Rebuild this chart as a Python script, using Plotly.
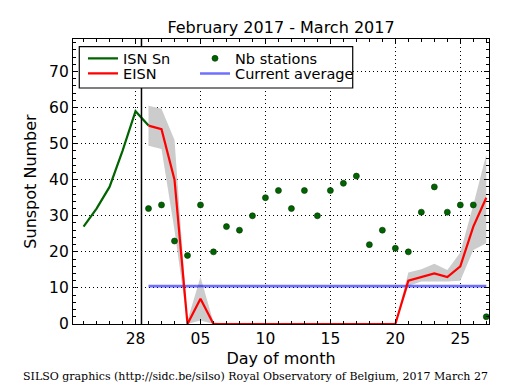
import plotly.graph_objects as go
import pandas as pd

# ---------------- data ----------------
isn_dates = pd.date_range("2017-02-24", "2017-03-01", freq="D")
isn_values = [27, 32, 38, 48, 59, 55]

eisn_dates = pd.date_range("2017-03-01", "2017-03-27", freq="D")
eisn_values = [55, 54, 40, 0, 7, 0,
               0, 0, 0, 0, 0, 0, 0, 0, 0, 0, 0, 0, 0, 0,
               12, 13, 14, 13, 16, 27, 35]
eisn_upper = [60.5, 59.7, 51, 1, 13, 0.5,
              0, 0, 0, 0, 0, 0, 0, 0, 0, 0, 0, 0, 0, 0,
              14.3, 15.2, 16.7, 15, 19.8, 33, 47]
eisn_lower = [49.4, 48.5, 26, 0, 1, 0,
              0, 0, 0, 0, 0, 0, 0, 0, 0, 0, 0, 0, 0, 0,
              10.5, 11.8, 11.8, 11.8, 12, 20.5, 22.4]
nb_stations = [32, 33, 23, 19, 33, 20,
               27, 26, 30, 35, 37, 32, 37, 30, 37, 39, 41,
               22, 26, 21, 20,
               31, 38, 31, 33, 33, 2]

average_dates = ["2017-03-01", "2017-03-27"]
current_average = 10.5

isn_end = "2017-02-28 11:00"

x_tick_dates = ["2017-02-28", "2017-03-05", "2017-03-10",
                "2017-03-15", "2017-03-20", "2017-03-25"]
x_tick_labels = ["28", "05", "10", "15", "20", "25"]
y_tick_vals = [0, 10, 20, 30, 40, 50, 60, 70]

x_range = ["2017-02-23 04:30", "2017-03-27 05:00"]
y_range = [0, 79]

# ---------------- figure ----------------
FONT = "DejaVu Sans"
fig = go.Figure()

band_x = list(eisn_dates) + list(eisn_dates[::-1])
band_y = eisn_upper + eisn_lower[::-1]
fig.add_trace(go.Scatter(x=band_x, y=band_y, fill="toself", fillcolor="#cccccc",
                         line=dict(width=0), mode="lines", showlegend=False,
                         hoverinfo="skip"))

fig.add_trace(go.Scatter(x=isn_dates, y=isn_values, mode="lines", name="ISN Sn",
                         line=dict(color="#006400", width=2.2), legend="legend"))

fig.add_trace(go.Scatter(x=average_dates, y=[current_average, current_average],
                         mode="lines", name="Current average",
                         line=dict(color="rgba(0,0,255,0.56)", width=2.6),
                         legend="legend4"))

fig.add_trace(go.Scatter(x=eisn_dates, y=eisn_values, mode="lines", name="EISN",
                         line=dict(color="#ff0000", width=2.2), legend="legend2"))

fig.add_trace(go.Scatter(x=eisn_dates, y=nb_stations, mode="markers", name="Nb stations",
                         marker=dict(color="#006400", size=6,
                                     line=dict(color="#003000", width=0.6)),
                         legend="legend3"))

axis_common = dict(showline=True, linecolor="black", linewidth=1.2, mirror="allticks",
                   ticks="inside", ticklen=5, tickwidth=1, tickcolor="black",
                   showgrid=True, gridcolor="black", griddash="1px,3px", gridwidth=1,
                   zeroline=False, automargin=False,
                   tickfont=dict(family=FONT, size=15.5, color="black"))

fig.update_xaxes(**axis_common, range=x_range, tickvals=x_tick_dates,
                 ticktext=x_tick_labels,
                 minor=dict(dtick=86400000, tick0="2017-02-23", ticks="inside",
                            ticklen=3, tickcolor="black", showgrid=False),
                 title=dict(text="Day of month", font=dict(family=FONT, size=16, color="black"),
                            standoff=6))
fig.update_yaxes(**axis_common, range=y_range, tickvals=y_tick_vals,
                 minor=dict(dtick=2, ticks="inside", ticklen=3, tickcolor="black",
                            showgrid=False),
                 title=dict(text="Sunspot Number", font=dict(family=FONT, size=16, color="black"),
                            standoff=8))

# vertical marker between ISN and EISN
fig.add_shape(type="line", xref="x", yref="paper", x0=isn_end, x1=isn_end, y0=0, y1=1,
              line=dict(color="black", width=1.5), layer="above")
# legend frame
fig.add_shape(type="rect", xref="paper", yref="paper", x0=0.0151, x1=0.6724,
              y0=0.828, y1=0.973, line=dict(color="black", width=1.2),
              fillcolor="white", layer="above")

legend_common = dict(orientation="v", xanchor="left", yanchor="top",
                     bgcolor="rgba(0,0,0,0)", borderwidth=0, itemwidth=30,
                     font=dict(family=FONT, size=14.5, color="black"))
col1_x, col2_x = 0.024, 0.2933
row1_y, row2_y = 0.988, 0.935

fig.update_layout(
    width=515, height=390,
    margin=dict(l=73, r=26, t=39, b=66),
    paper_bgcolor="white", plot_bgcolor="white",
    font=dict(family=FONT, color="black"),
    title=dict(text="February 2017 - March 2017", x=0.5, xref="paper", xanchor="center",
               y=1 - 27 / 390, yanchor="middle", font=dict(family=FONT, size=16, color="black")),
    legend=dict(**legend_common, x=col1_x, y=row1_y),
    legend2=dict(**legend_common, x=col1_x, y=row2_y),
    legend3=dict(**legend_common, x=col2_x, y=row1_y),
    legend4=dict(**legend_common, x=col2_x, y=row2_y),
    annotations=[dict(text="SILSO graphics (http://sidc.be/silso) Royal Observatory of Belgium, 2017 March 27",
                      xref="paper", yref="paper", x=(255 - 73) / 416, y=1 - (376 - 39) / 285,
                      xanchor="center", yanchor="middle", showarrow=False,
                      font=dict(family="DejaVu Serif", size=11, color="black"))],
)

fig.write_html("out.html", config={"displayModeBar": False},
               post_script="document.body.style.margin='0';document.body.style.padding='0';")
